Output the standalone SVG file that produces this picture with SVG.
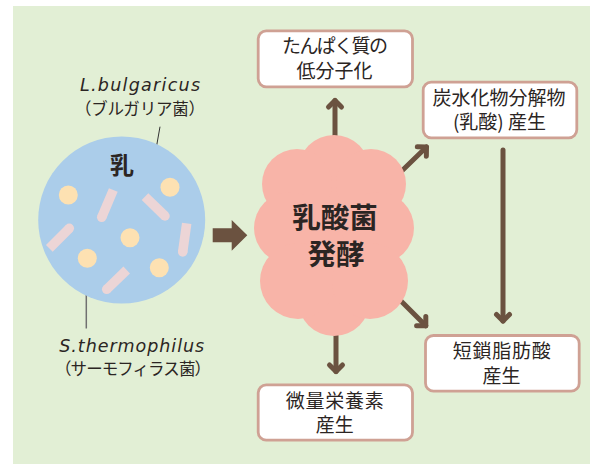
<svg xmlns="http://www.w3.org/2000/svg" width="590" height="464" viewBox="0 0 590 464">
  <style>
    .jp { font-family: "Noto Sans CJK JP", "Noto Sans", sans-serif; fill: #2b2523; }
    .lat { font-family: "DejaVu Sans", "Liberation Sans", sans-serif; font-style: italic; fill: #2b2523; }
    .box { fill: #ffffff; stroke: #cfa194; stroke-width: 2.8; }
    .lbl { font-size: 19px; text-anchor: middle; }
    .arrow { fill: none; stroke: #6b5240; stroke-width: 5; stroke-linecap: round; marker-end: url(#head); }
    .rod { stroke: #ecd5d6; stroke-width: 9.5; stroke-linecap: butt; }
    .rodcap { fill: #ecd5d6; }
    .dot { fill: #fde1b2; }
    .puff { fill: #f8b4a8; }
  </style>
  <defs>
    <marker id="head" markerUnits="userSpaceOnUse" markerWidth="20" markerHeight="20" viewBox="-10 -10 20 20" refX="0" refY="0" orient="auto" style="overflow:visible">
      <path d="M-6.5,-6.5 L0,0 L-6.5,6.5" fill="none" stroke="#6b5240" stroke-width="5" stroke-linecap="round" stroke-linejoin="round"/>
    </marker>
  </defs>

  <!-- backdrop -->
  <rect x="13" y="6" width="577" height="458" fill="#e2efd5"/>

  <!-- connectors -->
  <g id="connectors">
    <polygon points="212.7,228.3 231.7,228.3 231.7,220 247.3,235.3 231.7,250.7 231.7,242.3 212.7,242.3" fill="#6b5240"/>
    <line class="arrow" x1="335" y1="150" x2="335" y2="100.5"/>
    <line class="arrow" x1="395" y1="177.5" x2="426.5" y2="147"/>
    <line class="arrow" x1="503" y1="150" x2="503" y2="321"/>
    <line class="arrow" x1="392" y1="292" x2="425.8" y2="325.8"/>
    <line class="arrow" x1="336" y1="320" x2="336" y2="371.5"/>
    <!-- leader lines to the bacteria -->
    <line x1="160" y1="126.7" x2="148.3" y2="192.7" stroke="#333333" stroke-width="1"/>
    <line x1="86.3" y1="267" x2="86.3" y2="328.5" stroke="#707070" stroke-width="1.5"/>
  </g>

  <!-- milk with bacteria -->
  <g id="milk">
    <circle cx="121.7" cy="220" r="83.5" fill="#abcdea"/>
    <text class="jp" x="122" y="173.5" font-size="24" font-weight="700" text-anchor="middle">乳</text>
    <line class="rod" x1="113.3" y1="190" x2="101.7" y2="217.3"/>
    <circle class="rodcap" cx="101.7" cy="217.3" r="4.75"/>
    <line class="rod" x1="49.3" y1="248.3" x2="69.3" y2="228.3"/>
    <circle class="rodcap" cx="69.3" cy="228.3" r="4.75"/>
    <line class="rod" x1="145" y1="196.7" x2="165" y2="216"/>
    <circle class="rodcap" cx="165" cy="216" r="4.75"/>
    <line class="rod" x1="186.7" y1="223.3" x2="182.7" y2="252"/>
    <circle class="rodcap" cx="182.7" cy="252" r="4.75"/>
    <line class="rod" x1="126.7" y1="270" x2="106.7" y2="289.3"/>
    <circle class="rodcap" cx="106.7" cy="289.3" r="4.75"/>
    <circle class="dot" cx="68.3" cy="195" r="9.5"/>
    <circle class="dot" cx="170" cy="187.3" r="9.5"/>
    <circle class="dot" cx="130" cy="237.7" r="9.5"/>
    <circle class="dot" cx="87.3" cy="258.3" r="9.5"/>
    <circle class="dot" cx="159.3" cy="267.7" r="9.5"/>
  </g>

  <g id="label-bulgaricus">
    <text class="lat" x="140" y="90.7" font-size="17.5" text-anchor="middle" textLength="120" lengthAdjust="spacing">L.bulgaricus</text>
    <text class="jp" x="140" y="115.3" font-size="16.5" text-anchor="middle" textLength="130" lengthAdjust="spacing">（ブルガリア菌）</text>
  </g>

  <g id="label-thermophilus">
    <text class="lat" x="131.7" y="351.7" font-size="17.5" text-anchor="middle" textLength="145" lengthAdjust="spacing">S.thermophilus</text>
    <text class="jp" x="133" y="375" font-size="16.5" text-anchor="middle" textLength="156" lengthAdjust="spacing">（サーモフィラス菌）</text>
  </g>

  <!-- fermentation cloud -->
  <g id="fermentation">
    <ellipse class="puff" cx="334" cy="235" rx="58" ry="80"/>
    <circle class="puff" cx="334" cy="171" r="36"/>
    <circle class="puff" cx="334" cy="300" r="36"/>
    <circle class="puff" cx="297" cy="184" r="35"/>
    <circle class="puff" cx="371" cy="184" r="35"/>
    <circle class="puff" cx="290" cy="228" r="36"/>
    <circle class="puff" cx="378" cy="228" r="36"/>
    <circle class="puff" cx="298" cy="281" r="38"/>
    <circle class="puff" cx="370" cy="281" r="38"/>
    <text class="jp" x="335" y="227.5" font-size="28.5" font-weight="700" text-anchor="middle">乳酸菌</text>
    <text class="jp" x="336" y="265" font-size="28.5" font-weight="700" text-anchor="middle">発酵</text>
  </g>

  <g id="protein">
    <rect class="box" x="258.2" y="30.8" width="154.3" height="56" rx="8"/>
    <text class="jp lbl" x="335" y="53" textLength="106" lengthAdjust="spacing">たんぱく質の</text>
    <text class="jp lbl" x="334.5" y="77.7">低分子化</text>
  </g>

  <g id="lactic-acid">
    <rect class="box" x="423.2" y="82.2" width="153.6" height="55.6" rx="8"/>
    <text class="jp lbl" x="499" y="104.7">炭水化物分解物</text>
    <text class="jp lbl" x="499.5" y="129.4">(乳酸) 産生</text>
  </g>

  <g id="scfa">
    <rect class="box" x="425.5" y="335.5" width="153.7" height="55.7" rx="8"/>
    <text class="jp lbl" x="501.7" y="358" textLength="98" lengthAdjust="spacing">短鎖脂肪酸</text>
    <text class="jp lbl" x="501.5" y="382.7">産生</text>
  </g>

  <g id="micronutrients">
    <rect class="box" x="258.2" y="384.8" width="154.3" height="55.4" rx="8"/>
    <text class="jp lbl" x="334.7" y="407.5" textLength="98" lengthAdjust="spacing">微量栄養素</text>
    <text class="jp lbl" x="334.7" y="432">産生</text>
  </g>
</svg>
